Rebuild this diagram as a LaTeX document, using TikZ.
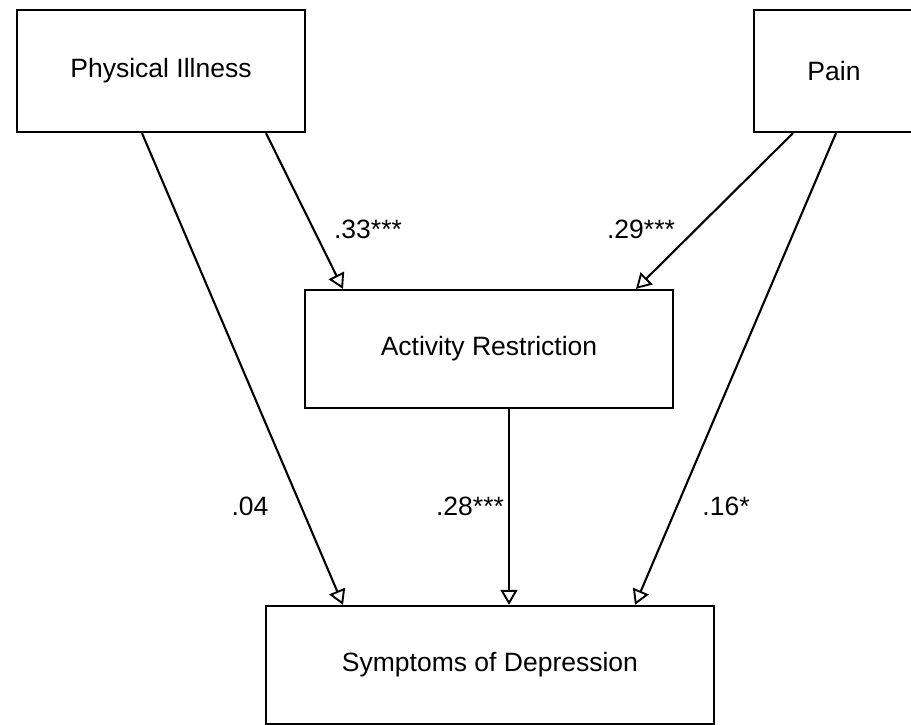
\documentclass[tikz,border=0pt]{standalone}
\usepackage{fontspec}
\setmainfont{Liberation Sans}
\usetikzlibrary{arrows.meta}
\begin{document}
\begin{tikzpicture}[x=1pt,y=-1pt,
  box/.style={draw, line width=2.3pt, rectangle, inner sep=0pt, font=\fontsize{26.5}{30}\selectfont},
  link/.style={line width=2.1pt, -{Triangle[open,length=15pt,width=17pt,line width=1.9pt]}},
  thinlink/.style={line width=1.3pt, -{Triangle[open,length=15pt,width=17pt,line width=1.9pt]}},
  coef/.style={font=\fontsize{26.5}{30}\selectfont, inner sep=0pt}]
\useasboundingbox (0,0) rectangle (911,725);
\node[box, minimum width=288pt, minimum height=122pt] (pi) at (161,71) {Physical Illness};
\node[box, minimum width=160pt, minimum height=122pt] (pain) at (834,71) {Pain};
\node[box, minimum width=368pt, minimum height=118pt] (ar) at (489,349) {Activity Restriction};
\node[box, minimum width=448pt, minimum height=118pt] (sd) at (490,665) {Symptoms of Depression};
\draw[link] ([xshift=105pt]pi.south) -- ([xshift=-146pt]ar.north);
\draw[link] ([xshift=-19pt]pi.south) -- ([xshift=-147pt]sd.north);
\draw[link] ([xshift=-41pt]pain.south) -- ([xshift=147pt]ar.north);
\draw[link] ([xshift=2pt]pain.south) -- ([xshift=145pt]sd.north);
\draw[thinlink] ([xshift=20pt]ar.south) -- ([xshift=19pt]sd.north);
\node[coef] (c1) at (368,229) {.33***};
\node[coef] (c2) at (641,229) {.29***};
\node[coef] (c3) at (250,506) {.04};
\node[coef] (c4) at (470,506) {.28***};
\node[coef] (c5) at (726,506) {.16*};
\end{tikzpicture}
\end{document}
